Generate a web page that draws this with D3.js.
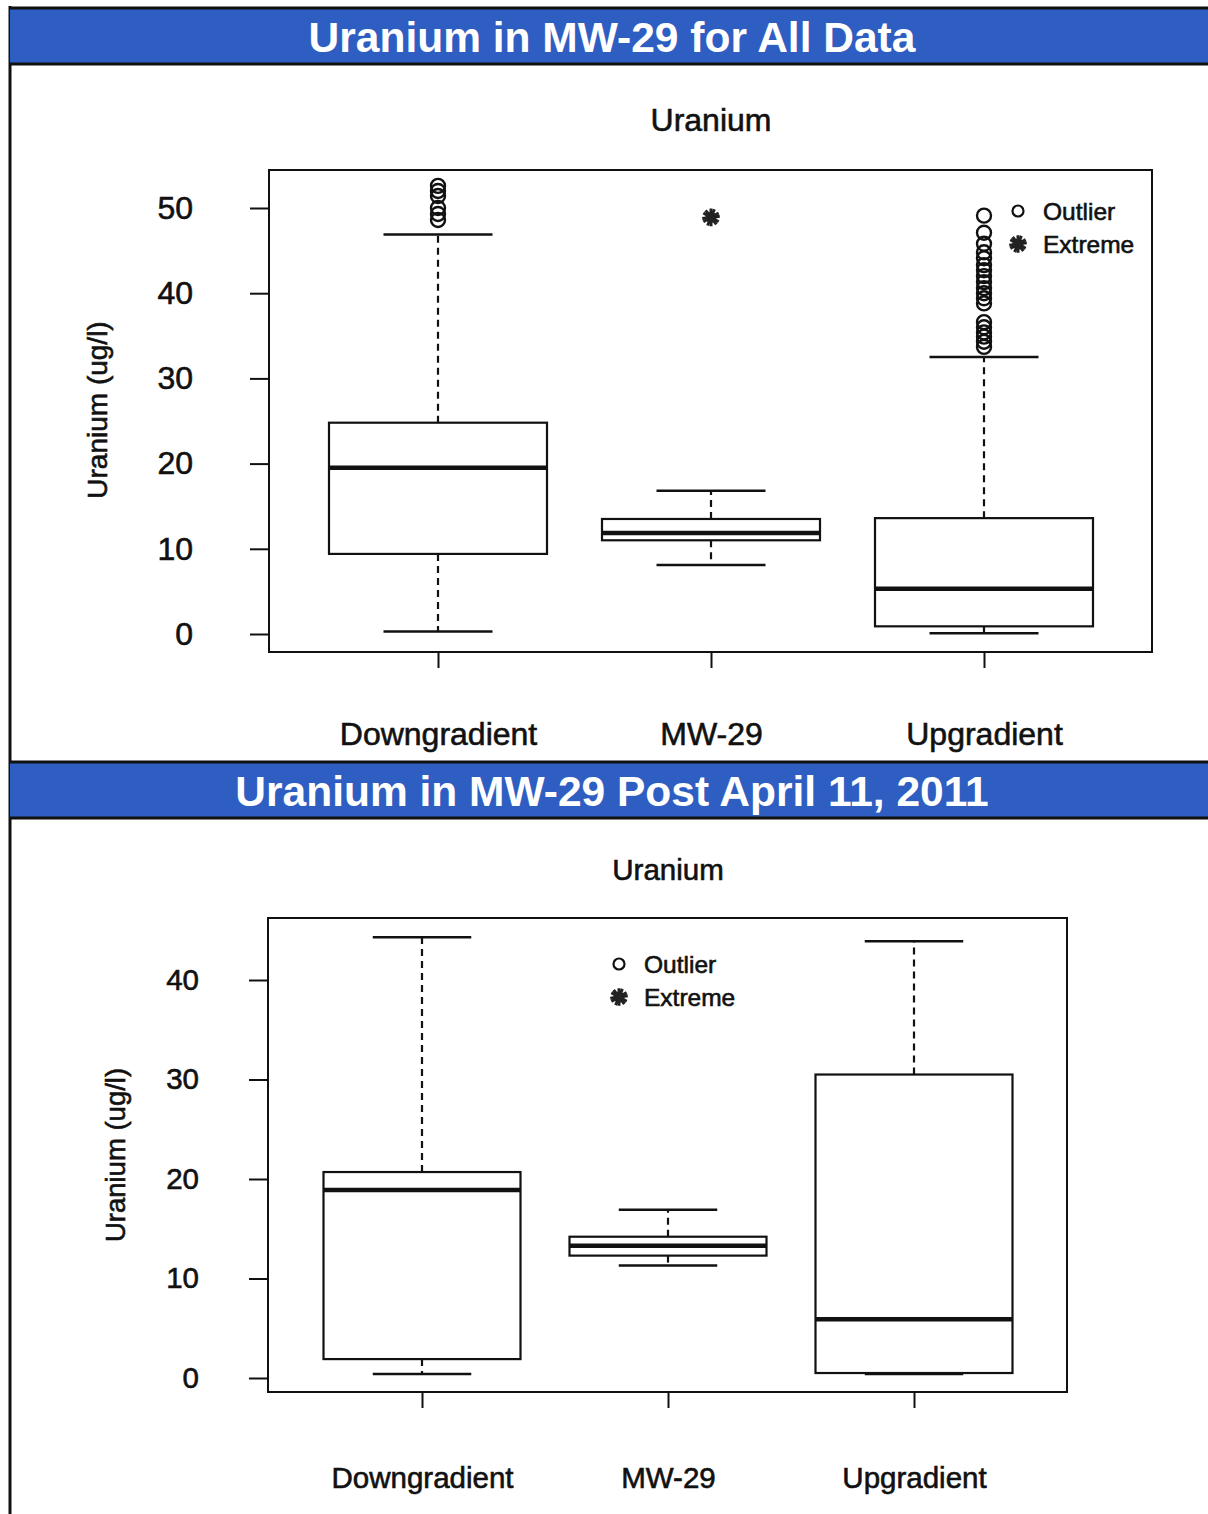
<!DOCTYPE html>
<html>
<head>
<meta charset="utf-8">
<script src="https://cdn.jsdelivr.net/npm/d3@7"></script>
<style>
  body { margin: 0; background: #fff; }
  svg { display: block; }
  text { font-family: "Liberation Sans", Arial, sans-serif; fill: #111; }
  .ink { stroke: #111; stroke-width: 0.6px; }
</style>
</head>
<body>
<svg id="chart" width="1208" height="1514"></svg>
<script>
// categories shared by both panels
var categories = ["Downgradient", "MW-29", "Upgradient"];

// panel 1 : all data
var allLow = [0.3, 8.1, 0.1];
var allQ1 = [9.4, 11.0, 0.9];
var allMedian = [19.5, 11.85, 5.3];
var allQ3 = [24.8, 13.5, 13.6];
var allHigh = [46.9, 16.8, 32.5];
var allOutDown = [52.6, 52.0, 51.4, 50.0, 49.3, 48.6];
var allOutMW29 = [];
var allOutUp = [49.1, 47.1, 45.8, 44.8, 44.1, 43.3, 42.7, 42.0, 41.3, 40.6, 40.0, 39.4, 38.8,
                36.6, 36.0, 35.4, 34.9, 34.3, 33.7];
var allExtreme = [[], [48.9], []];
var allTicks = [0, 10, 20, 30, 40, 50];

// panel 2 : post April 11, 2011
var postLow = [0.4, 11.3, 0.4];
var postQ1 = [1.9, 12.3, 0.5];
var postMedian = [18.9, 13.3, 5.9];
var postQ3 = [20.7, 14.2, 30.5];
var postHigh = [44.3, 16.9, 43.9];
var postTicks = [0, 10, 20, 30, 40];

var svg = d3.select("#chart");
var blue = "#2f5ec2";

function header(y, title) {
    svg.append("rect").attr("x", 10).attr("y", y).attr("width", 1198).attr("height", 56)
        .attr("fill", blue);
    svg.append("line").attr("x1", 10).attr("x2", 1208).attr("y1", y).attr("y2", y)
        .attr("stroke", "#111").attr("stroke-width", 3);
    svg.append("line").attr("x1", 10).attr("x2", 1208).attr("y1", y + 56).attr("y2", y + 56)
        .attr("stroke", "#111").attr("stroke-width", 3);
    svg.append("text").attr("x", 612).attr("y", y + 29)
        .attr("text-anchor", "middle").attr("dominant-baseline", "central")
        .attr("font-size", 42.5).attr("font-weight", "bold")
        .style("fill", "#fff")
        .text(title);
}

function panel(opt) {
    var g = svg.append("g");
    var y = d3.scaleLinear().domain([0, opt.ticks[opt.ticks.length - 1]]).range(opt.yRange);
    var x = d3.scalePoint().domain(categories).range(opt.xRange);
    var bw = opt.boxWidth;

    // subtitle
    g.append("text").attr("class", "ink").attr("x", opt.subX).attr("y", opt.subY)
        .attr("text-anchor", "middle").attr("dominant-baseline", "central")
        .attr("font-size", opt.fs).text("Uranium");

    // frame
    g.append("rect").attr("x", opt.frame[0]).attr("y", opt.frame[1])
        .attr("width", opt.frame[2] - opt.frame[0]).attr("height", opt.frame[3] - opt.frame[1])
        .attr("fill", "none").attr("stroke", "#111").attr("stroke-width", 2);

    // axes
    var ya = g.append("g").attr("transform", "translate(" + opt.frame[0] + ",0)")
        .call(d3.axisLeft(y).tickValues(opt.ticks).tickSize(19).tickPadding(opt.yPad));
    var xa = g.append("g").attr("transform", "translate(0," + opt.frame[3] + ")")
        .call(d3.axisBottom(x).tickSize(16).tickPadding(opt.xPad));
    [ya, xa].forEach(function (a) {
        a.select(".domain").remove();
        a.selectAll("line").attr("stroke", "#111").attr("stroke-width", 2);
        a.selectAll("text").attr("class", "ink").attr("font-size", opt.fs)
            .attr("font-family", null).style("fill", "#111");
    });
    xa.selectAll("text").attr("dy", "0.35em");

    // y title
    g.append("text").attr("class", "ink")
        .attr("transform", "translate(" + opt.titleX + "," + opt.titleY + ") rotate(-90)")
        .attr("text-anchor", "middle").attr("dominant-baseline", "central")
        .attr("font-size", opt.titleFs).text("Uranium (ug/l)");

    // boxes
    categories.forEach(function (c, i) {
        var cx = x(c);
        var b = g.append("g");
        b.append("line").attr("x1", cx).attr("x2", cx).attr("y1", y(opt.q3[i])).attr("y2", y(opt.high[i]))
            .attr("stroke", "#111").attr("stroke-width", 2.2).attr("stroke-dasharray", "7,5");
        b.append("line").attr("x1", cx).attr("x2", cx).attr("y1", y(opt.q1[i])).attr("y2", y(opt.low[i]))
            .attr("stroke", "#111").attr("stroke-width", 2.2).attr("stroke-dasharray", "7,5");
        [opt.high[i], opt.low[i]].forEach(function (v) {
            b.append("line").attr("x1", cx - bw / 4).attr("x2", cx + bw / 4).attr("y1", y(v)).attr("y2", y(v))
                .attr("stroke", "#111").attr("stroke-width", 2.5);
        });
        b.append("rect").attr("x", cx - bw / 2).attr("y", y(opt.q3[i]))
            .attr("width", bw).attr("height", y(opt.q1[i]) - y(opt.q3[i]))
            .attr("fill", "none").attr("stroke", "#111").attr("stroke-width", 2.2);
        b.append("line").attr("x1", cx - bw / 2).attr("x2", cx + bw / 2)
            .attr("y1", y(opt.median[i])).attr("y2", y(opt.median[i]))
            .attr("stroke", "#111").attr("stroke-width", 4.5);

        // outliers
        b.selectAll("circle.out").data(opt.outliers[i]).enter().append("circle")
            .attr("class", "out").attr("cx", cx).attr("cy", function (d) { return y(d); })
            .attr("r", 7).attr("fill", "none").attr("stroke", "#111").attr("stroke-width", 2.4);
        // extremes
        opt.extremes[i].forEach(function (v) { star(b, cx, y(v)); });
    });

    // legend
    var lg = g.append("g").attr("transform", "translate(" + opt.legend[0] + "," + opt.legend[1] + ")");
    lg.append("circle").attr("cx", 0).attr("cy", 0).attr("r", 5.5)
        .attr("fill", "none").attr("stroke", "#111").attr("stroke-width", 2.2);
    lg.append("text").attr("class", "ink").attr("x", 25).attr("y", 0).attr("dominant-baseline", "central")
        .attr("font-size", 24.5).text("Outlier");
    star(lg, 0, 33);
    lg.append("text").attr("class", "ink").attr("x", 25).attr("y", 33).attr("dominant-baseline", "central")
        .attr("font-size", 24.5).text("Extreme");
}

function star(sel, cx, cy) {
    sel.append("circle").attr("cx", cx).attr("cy", cy).attr("r", 5.5).attr("fill", "#222");
    sel.append("path").attr("d", d3.symbol(d3.symbolAsterisk, 220)())
        .attr("transform", "translate(" + cx + "," + cy + ") rotate(22.5)")
        .attr("fill", "none").attr("stroke", "#222").attr("stroke-width", 3);
    sel.append("path").attr("d", d3.symbol(d3.symbolAsterisk, 220)())
        .attr("transform", "translate(" + cx + "," + cy + ")")
        .attr("fill", "none").attr("stroke", "#222").attr("stroke-width", 3);
}

// left border of the page
svg.append("line").attr("x1", 10).attr("x2", 10).attr("y1", 6).attr("y2", 1514)
    .attr("stroke", "#111").attr("stroke-width", 3);

header(8, "Uranium in MW-29 for All Data");
panel({
    low: allLow, q1: allQ1, median: allMedian, q3: allQ3, high: allHigh,
    outliers: [allOutDown, allOutMW29, allOutUp], extremes: allExtreme,
    ticks: allTicks, yRange: [634, 208], xRange: [438, 984], boxWidth: 218,
    frame: [269, 170, 1152, 652], fs: 32, titleFs: 28, yPad: 57, xPad: 66,
    subX: 711, subY: 120, titleX: 97, titleY: 410, legend: [1018, 211]
});

header(762, "Uranium in MW-29 Post April 11, 2011");
panel({
    low: postLow, q1: postQ1, median: postMedian, q3: postQ3, high: postHigh,
    outliers: [[], [], []], extremes: [[], [], []],
    ticks: postTicks, yRange: [1378, 980], xRange: [422, 914], boxWidth: 197,
    frame: [268, 918, 1067, 1392], fs: 29.5, titleFs: 27.5, yPad: 50, xPad: 70,
    subX: 668, subY: 869, titleX: 115, titleY: 1155, legend: [619, 964]
});
</script>
</body>
</html>
